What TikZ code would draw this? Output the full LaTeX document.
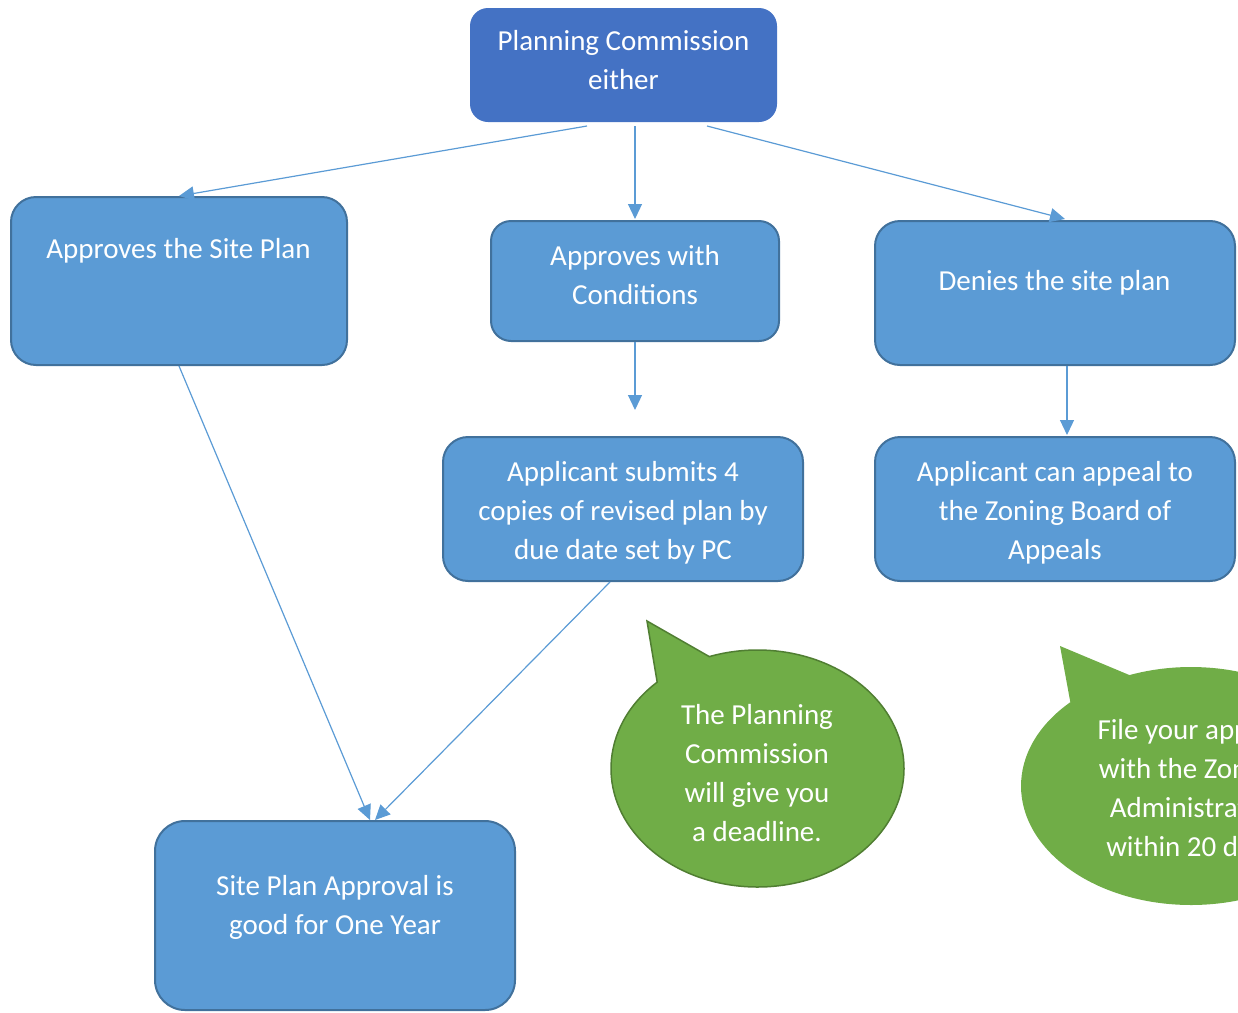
\documentclass[tikz,border=0pt]{standalone}
\usepackage{fontspec}
\setmainfont{Carlito}
\usetikzlibrary{arrows.meta,shapes.callouts,calc}
\definecolor{boxfill}{HTML}{5B9BD5}
\definecolor{boxline}{HTML}{41719C}
\definecolor{topfill}{HTML}{4472C4}
\definecolor{bubblefill}{HTML}{70AD47}
\definecolor{bubbleline}{HTML}{507E32}
\begin{document}
\begin{tikzpicture}[x=1pt,y=1pt,
  box/.style={draw=boxline, line width=2pt, fill=boxfill, rounded corners=25pt,
    inner sep=0pt, minimum width=360pt, minimum height=144pt},
  txt/.style={text=white, align=center, font=\fontsize{29}{39}\selectfont, inner sep=0pt},
  conn/.style={draw=boxfill, line width=1.2pt, -{Triangle[length=15pt,width=14pt]}},
  bubble/.style={ellipse callout, fill=bubblefill, inner sep=0pt, callout pointer arc=24}]
\useasboundingbox (0,0) rectangle (1238,-1012);
\clip (0,0) rectangle (1238,-1012);

% boxes
\node[box, draw=none, fill=topfill, rounded corners=18pt, minimum width=307pt, minimum height=114pt] (pc) at (623.5,-65) {};
\node[box, minimum width=336pt, minimum height=168pt] (A) at (179,-281) {};
\node[box, rounded corners=20pt, minimum width=288pt, minimum height=120pt] (B) at (635,-281) {};
\node[box] (C) at (1055,-293) {};
\node[box] (D) at (623,-509) {};
\node[box] (E) at (1055,-509) {};
\node[box, rounded corners=30pt, minimum height=189pt] (F) at (335,-915.5) {};

% texts
\node[txt] (tpc) at (623.5,-60) {Planning Commission\\either};
\node[txt] (tA) at (178.5,-251) {Approves the Site Plan};
\node[txt] (tB) at (635,-275) {Approves with\\Conditions};
\node[txt] (tC) at (1054.5,-283) {Denies the site plan};
\node[txt] (tD) at (623,-513) {Applicant submits 4\\copies of revised plan by\\due date set by PC};
\node[txt] (tE) at (1055,-513) {Applicant can appeal to\\the Zoning Board of\\Appeals};
\node[txt] (tF) at (335,-907) {Site Plan Approval is\\good for One Year};

% callouts
\node[bubble, draw=bubbleline, line width=1.5pt, minimum width=293pt, minimum height=237pt,
  callout absolute pointer={(647,-621)}] (cb1) at (757.5,-768.5) {};
\node[bubble, minimum width=340pt, minimum height=238pt,
  callout absolute pointer={(1060,-646)}] (cb2) at (1191,-786) {};
\node[txt] (tcb1) at (757,-773.5) {The Planning\\Commission\\will give you\\a deadline.};
\node[txt] (tcb2) at (1191,-790) {File your appeal\\with the Zoning\\Administrator\\within 20 days};

% connectors
\draw[conn] ([xshift=-36.5pt,yshift=-3pt]pc.south) -- (A.north);
\draw[conn] ([xshift=11.5pt,yshift=-3pt]pc.south) -- ([yshift=1pt]B.north);
\draw[conn] ([xshift=83.5pt,yshift=-3pt]pc.south) -- ([xshift=10pt,yshift=1pt]C.north);
\draw[conn] (B.south) -- ([xshift=12pt,yshift=26pt]D.north);
\draw[conn] ([xshift=12pt]C.south) -- ([xshift=12pt,yshift=1pt]E.north);
\draw[conn] (A.south) -- ([xshift=35pt]F.north);
\draw[conn] ([xshift=-13pt]D.south) -- ([xshift=40pt]F.north);
\end{tikzpicture}
\end{document}
